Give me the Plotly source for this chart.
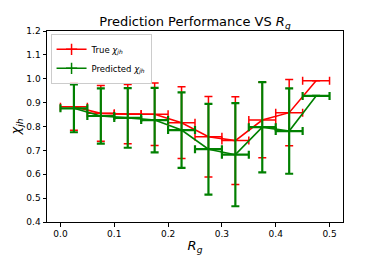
import plotly.graph_objects as go

rg = [0.025, 0.075, 0.125, 0.175, 0.225, 0.275, 0.325, 0.375, 0.425, 0.475]
rg_err = [0.025] * 10
true_chi = [0.883, 0.855, 0.852, 0.851, 0.816, 0.757, 0.741, 0.827, 0.858, 0.992]
true_err = [0.099, 0.117, 0.124, 0.131, 0.150, 0.169, 0.184, 0.158, 0.139, 0.0]
pred_chi = [0.876, 0.844, 0.836, 0.827, 0.785, 0.705, 0.682, 0.797, 0.781, 0.928]
pred_err = [0.100, 0.116, 0.125, 0.135, 0.158, 0.190, 0.216, 0.189, 0.179, 0.0]

series = [
    ("True <i>χ<sub>jh</sub></i>", true_chi, true_err, "#ff0000", 1.5),
    ("Predicted <i>χ<sub>jh</sub></i>", pred_chi, pred_err, "#008000", 2.2),
]

fig = go.Figure()
for name, y, e, c, th in series:
    fig.add_trace(go.Scatter(
        x=rg, y=y, mode="lines", line=dict(color=c, width=1.6),
        error_y=dict(type="data", array=e, visible=True, color=c, thickness=th, width=4),
        error_x=dict(type="data", array=rg_err, visible=True, color=c, thickness=th, width=4),
        showlegend=False, hoverinfo="skip",
    ))
for name, y, e, c, th in series:
    fig.add_trace(go.Scatter(
        x=[None], y=[None], mode="lines+markers", name=name,
        line=dict(color=c, width=1.5),
        marker=dict(symbol="cross-thin", size=8, line=dict(color=c, width=1.5)),
    ))

axis_common = dict(
    showline=True, linecolor="black", linewidth=1, mirror=True,
    ticks="outside", ticklen=3.5, tickwidth=1, tickcolor="black",
    showgrid=False, zeroline=False, automargin=False,
    tickfont=dict(family="DejaVu Sans", size=9, color="black"),
)
fig.update_xaxes(range=[-0.025, 0.525], tickmode="array",
                 tickvals=[0.0, 0.1, 0.2, 0.3, 0.4, 0.5], tickformat=".1f",
                 title=dict(text="<i>R<sub>g</sub></i>", font=dict(family="DejaVu Sans", size=13, color="black"), standoff=4),
                 **axis_common)
fig.update_yaxes(range=[0.4, 1.2], tickmode="array",
                 tickvals=[0.4, 0.5, 0.6, 0.7, 0.8, 0.9, 1.0, 1.1, 1.2], tickformat=".1f",
                 title=dict(text="<i>χ<sub>jh</sub></i>", font=dict(family="DejaVu Sans", size=13, color="black"), standoff=6),
                 **axis_common)

fig.update_layout(
    width=374, height=247,
    margin=dict(l=39, r=39, t=23, b=33, autoexpand=False),
    paper_bgcolor="white", plot_bgcolor="white",
    title=dict(text="Prediction Performance VS <i>R<sub>g</sub></i>", x=0.5, xanchor="center",
               xref="paper", y=0.927, yanchor="bottom",
               font=dict(family="DejaVu Sans", size=13, color="black")),
    legend=dict(x=0.012, y=0.985, xanchor="left", yanchor="top",
                bgcolor="rgba(255,255,255,0.8)", bordercolor="#cccccc", borderwidth=1,
                font=dict(family="DejaVu Sans", size=8.5, color="black"),
                itemwidth=30, tracegroupgap=0),
    font=dict(family="DejaVu Sans"),
)

fig.write_html("out.html")
